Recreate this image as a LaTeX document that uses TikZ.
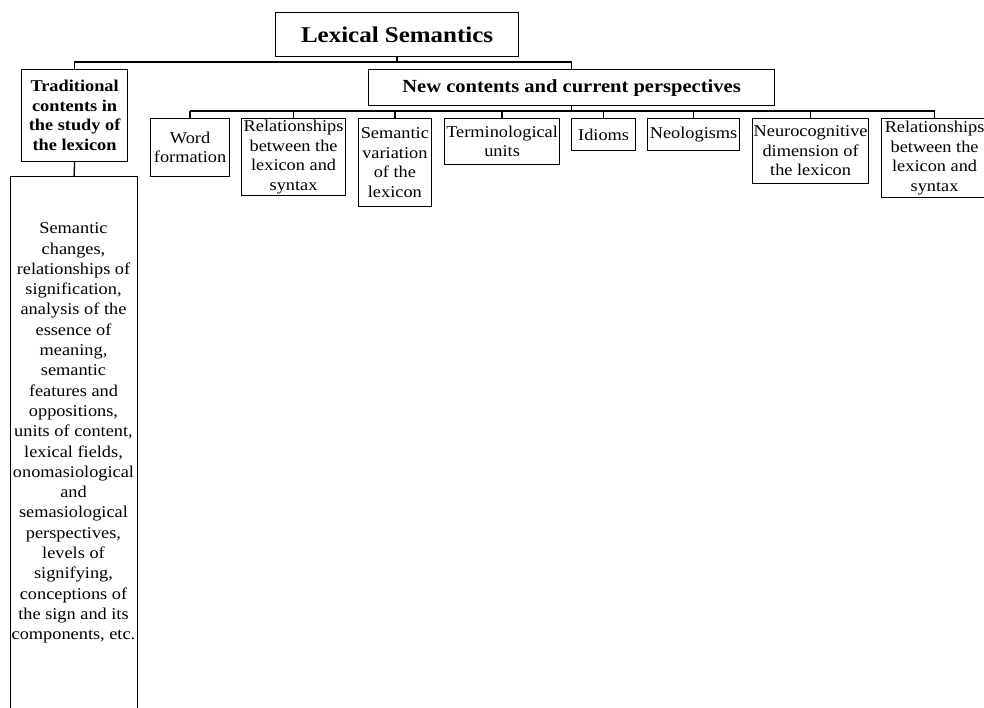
\documentclass[tikz,border=0pt]{standalone}
\usepackage{fontspec}
\setmainfont{Liberation Serif}[FakeStretch=1.11]
\usetikzlibrary{calc}
\begin{document}
\begin{tikzpicture}[x=1pt,y=1pt,
  box/.style={draw, line width=1.2pt, align=center, inner sep=1pt, anchor=north west,
    font=\fontsize{16.5}{19.5}\selectfont},
  bbox/.style={box, font=\fontsize{16.5}{19.5}\selectfont\bfseries},
  plaintext/.style={align=center, inner sep=0pt, font=\fontsize{16.5}{20.3}\selectfont},
  conn/.style={line width=1.3pt}]
\useasboundingbox (0,0) rectangle (984,-707);
% top level
\node[box, minimum width=243pt, minimum height=44.5pt, font=\fontsize{22.5}{26}\selectfont\bfseries] (ls) at (275,-11.5) {Lexical Semantics};
\node[bbox, minimum width=106pt, minimum height=92pt] (trad) at (21,-69) {Traditional\\contents in\\the study of\\the lexicon};
\node[box, minimum width=406pt, minimum height=36pt, font=\fontsize{18.5}{22}\selectfont\bfseries] (nc) at (368,-69) {New contents and current perspectives};
% left column
\node[box, minimum width=127pt, minimum height=545pt] (big) at (10,-176) {};
\node[plaintext] (bigtxt) at (73.5,-433) {Semantic\\changes,\\relationships of\\signification,\\analysis of the\\essence of\\meaning,\\semantic\\features and\\oppositions,\\units of content,\\lexical fields,\\onomasiological\\and\\semasiological\\perspectives,\\levels of\\signifying,\\conceptions of\\the sign and its\\components, etc.};
% children
\node[box, minimum width=79pt, minimum height=58pt] (wf) at (150,-118) {Word\\formation};
\node[box, minimum width=104pt, minimum height=77pt] (rel) at (241,-118) {Relationships\\between the\\lexicon and\\syntax};
\node[box, minimum width=72.5pt, minimum height=88pt] (sv) at (358,-118) {Semantic\\variation\\of the\\lexicon};
\node[box, minimum width=115pt, minimum height=46pt] (tu) at (444,-118) {Terminological\\units};
\node[box, minimum width=64pt, minimum height=32pt] (id) at (571,-118) {Idioms};
\node[box, minimum width=92pt, minimum height=32pt] (neo) at (647,-118) {Neologisms};
\node[box, minimum width=116pt, minimum height=65pt] (neu) at (752,-118) {Neurocognitive\\dimension of\\the lexicon};
\node[box, minimum width=106pt, minimum height=79pt] (rel2) at (881,-118) {Relationships\\between the\\lexicon and\\syntax};
% connectors
\coordinate (b1) at (0,-62);
\coordinate (b2) at (0,-111);
\draw[conn] (ls.south) -- (ls.south |- b1);
\draw[conn] (trad.north) -- (trad.north |- b1) -- (nc.north |- b1) -- (nc.north);
\draw[conn] (trad.south) -- (big.north);
\draw[conn] (nc.south) -- (nc.south |- b2);
\draw[conn] (wf.north |- b2) -- (rel2.north |- b2);
\foreach \n in {wf,rel,sv,tu,id,neo,neu,rel2}
  \draw[conn] (\n.north) -- (\n.north |- b2);
\end{tikzpicture}
\end{document}
